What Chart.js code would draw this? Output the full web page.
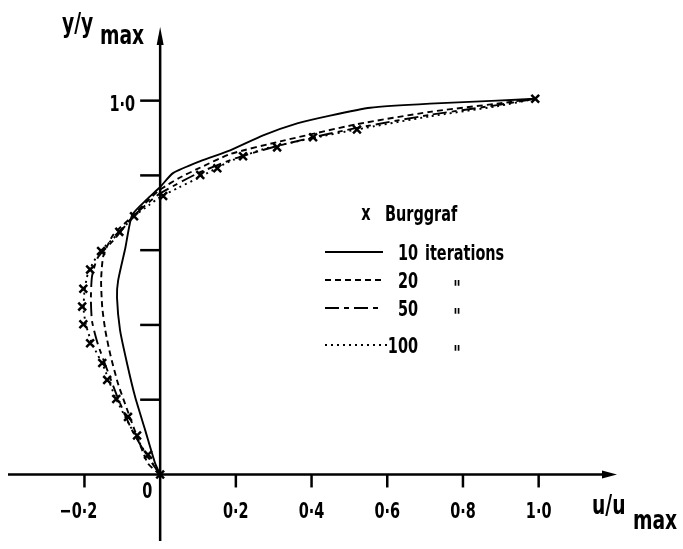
<!DOCTYPE html>
<html>
<head>
<meta charset="utf-8">
<script src="https://cdn.jsdelivr.net/npm/chart.js@4"></script>
<style>
  html, body { margin: 0; padding: 0; background: #fff; }
  canvas { display: block; }
</style>
</head>
<body>
<canvas id="chart" width="683" height="549"></canvas>
<script>
// tick marks and their labels
const xTicks = [-0.2, 0.2, 0.4, 0.6, 0.8, 1.0];
const xTickLabels = ["−0·2", "0·2", "0·4", "0·6", "0·8", "1·0"];
const yTicks = [0.2, 0.4, 0.6, 0.8, 1.0];
const yTickLabels = ["", "", "", "", "1·0"];

// Burggraf reference points
const burggrafU = [0, -0.032, -0.061, -0.085, -0.116, -0.140, -0.153, -0.185, -0.203, -0.206, -0.203, -0.185, -0.156, -0.108, -0.069, 0.008, 0.106, 0.151, 0.219, 0.309, 0.404, 0.520, 0.991];
const burggrafY = [0, 0.053, 0.104, 0.154, 0.202, 0.253, 0.298, 0.351, 0.402, 0.449, 0.497, 0.548, 0.598, 0.649, 0.691, 0.745, 0.801, 0.819, 0.851, 0.875, 0.902, 0.923, 1.005];

// 10 iterations
const iter10U = [0, -0.013, -0.040, -0.066, -0.087, -0.106, -0.114, -0.111, -0.092, -0.074, -0.036, 0.0, 0.034, 0.106, 0.185, 0.272, 0.362, 0.449, 0.555, 0.713, 0.890, 0.991];
const iter10Y = [0, 0.029, 0.120, 0.207, 0.295, 0.386, 0.473, 0.519, 0.606, 0.694, 0.735, 0.769, 0.806, 0.838, 0.867, 0.907, 0.939, 0.960, 0.981, 0.992, 1.000, 1.005];

// 20 iterations
const iter20U = [0, -0.032, -0.061, -0.087, -0.111, -0.132, -0.145, -0.153, -0.156, -0.150, -0.124, -0.072, -0.030, 0.0, 0.05, 0.10, 0.185, 0.317, 0.520, 0.713, 0.890, 0.991];
const iter20Y = [0, 0.029, 0.101, 0.173, 0.242, 0.322, 0.386, 0.447, 0.519, 0.585, 0.641, 0.692, 0.735, 0.762, 0.793, 0.818, 0.857, 0.891, 0.937, 0.970, 0.992, 1.005];

// 50 iterations
const iter50U = [0, -0.035, -0.075, -0.110, -0.140, -0.165, -0.180, -0.183, -0.180, -0.165, -0.120, -0.071, -0.030, 0.0, 0.1, 0.2, 0.3, 0.4, 0.52, 0.713, 0.89, 0.991];
const iter50Y = [0, 0.05, 0.12, 0.2, 0.28, 0.35, 0.41, 0.47, 0.53, 0.58, 0.63, 0.691, 0.728, 0.752, 0.806, 0.846, 0.876, 0.901, 0.927, 0.962, 0.988, 1.005];

// 100 iterations
const iter100U = [0, -0.04, -0.085, -0.12, -0.15, -0.18, -0.196, -0.202, -0.2, -0.19, -0.16, -0.11, -0.07, -0.03, 0.0, 0.05, 0.1, 0.185, 0.272, 0.4, 0.52, 0.713, 0.89, 0.991];
const iter100Y = [0, 0.06, 0.14, 0.21, 0.29, 0.35, 0.40, 0.44, 0.49, 0.54, 0.595, 0.645, 0.69, 0.72, 0.742, 0.768, 0.793, 0.838, 0.870, 0.899, 0.923, 0.958, 0.985, 1.005];

const FAMILY = '"DejaVu Sans Condensed", "DejaVu Sans", sans-serif';
const FONT = "bold 22px " + FAMILY;
const TITLE_FONT = "bold 26px " + FAMILY;
const INK = "#000";

const pts = (us, ys) => us.map((u, i) => ({ x: u, y: ys[i] }));

const lineSet = (label, us, ys, dash) => ({
  label,
  data: pts(us, ys),
  showLine: true,
  borderColor: INK,
  borderWidth: 1.9,
  borderDash: dash,
  pointRadius: 0,
  tension: 0.2,
  fill: false,
});

// draws narrow text (the figure's lettering is condensed); align is left / center / right
function text(ctx, str, x, y, align = "left", squeeze = 0.73) {
  const w = ctx.measureText(str).width * squeeze;
  let lx = x;
  if (align === "center") lx = x - w / 2;
  if (align === "right") lx = x - w;
  ctx.save();
  ctx.translate(lx, y);
  ctx.scale(squeeze, 1);
  ctx.textAlign = "left";
  ctx.fillText(str, 0, 0);
  ctx.restore();
  return w;
}

const axesPlugin = {
  id: "axes",
  afterDraw(chart) {
    const { ctx, scales } = chart;
    const sx = scales.x;
    const sy = scales.y;
    const x0 = sx.getPixelForValue(0);
    const y0 = sy.getPixelForValue(0);
    const left = sx.getPixelForValue(sx.min);
    const right = sx.getPixelForValue(sx.max);
    const top = sy.getPixelForValue(sy.max);
    const bottom = sy.getPixelForValue(sy.min);

    ctx.save();
    ctx.strokeStyle = INK;
    ctx.fillStyle = INK;
    ctx.lineWidth = 2.5;
    ctx.setLineDash([]);

    // axis lines
    ctx.beginPath();
    ctx.moveTo(left, y0);
    ctx.lineTo(right - 10, y0);
    ctx.moveTo(x0, bottom);
    ctx.lineTo(x0, top + 12);
    ctx.stroke();

    // arrow heads
    ctx.beginPath();
    ctx.moveTo(right, y0);
    ctx.lineTo(right - 15, y0 - 4);
    ctx.lineTo(right - 15, y0 + 4);
    ctx.closePath();
    ctx.fill();
    ctx.beginPath();
    ctx.moveTo(x0, top);
    ctx.lineTo(x0 - 3.5, top + 18);
    ctx.lineTo(x0 + 3.5, top + 18);
    ctx.closePath();
    ctx.fill();

    ctx.font = FONT;
    ctx.textBaseline = "alphabetic";

    // x ticks
    xTicks.forEach((v, i) => {
      const px = sx.getPixelForValue(v);
      ctx.beginPath();
      ctx.moveTo(px, y0);
      ctx.lineTo(px, y0 + 13);
      ctx.stroke();
      const lab = xTickLabels[i];
      const core = lab.replace("−", "");
      const w = ctx.measureText(core).width * 0.73;
      text(ctx, lab, px + w / 2, y0 + 44, "right");
    });
    text(ctx, "0", x0 - 13, y0 + 24, "center");

    // y ticks
    yTicks.forEach((v, i) => {
      const py = sy.getPixelForValue(v);
      ctx.beginPath();
      ctx.moveTo(x0, py);
      ctx.lineTo(x0 - 20, py);
      ctx.stroke();
      if (yTickLabels[i]) {
        text(ctx, yTickLabels[i], x0 - 25, py + 10, "right");
      }
    });

    // legend
    text(ctx, "x", 366, 220, "center");
    text(ctx, "Burggraf", 385, 221);
    const rows = [252, 280, 308, 345];
    const names = ["10", "20", "50", "100"];
    chart.data.datasets.slice(1).forEach((ds, i) => {
      const ry = rows[i];
      ctx.lineWidth = ds.borderWidth;
      ctx.setLineDash(ds.borderDash || []);
      ctx.beginPath();
      ctx.moveTo(325, ry);
      ctx.lineTo(i === 3 ? 388 : 383, ry);
      ctx.stroke();
      ctx.setLineDash([]);
      text(ctx, names[i], 418, ry + 8, "right");
      if (i === 0) {
        text(ctx, "iterations", 425, ry + 8);
      } else {
        text(ctx, "\"", 457, ry + 16, "center");
      }
    });

    // axis titles
    ctx.font = TITLE_FONT;
    text(ctx, "y/y", 62, 32, "left", 0.8);
    text(ctx, "max", 100, 44, "left", 0.8);
    text(ctx, "u/u", 592, y0 + 40, "left", 0.8);
    text(ctx, "max", 633, y0 + 55, "left", 0.8);
    ctx.restore();
  },
};

new Chart(document.getElementById("chart"), {
  type: "scatter",
  data: {
    datasets: [
      {
        label: "Burggraf",
        data: pts(burggrafU, burggrafY),
        showLine: false,
        pointStyle: "crossRot",
        pointRadius: 5.5,
        borderColor: INK,
        borderWidth: 2.5,
      },
      lineSet("10 iterations", iter10U, iter10Y, []),
      lineSet("20", iter20U, iter20Y, [6, 4]),
      lineSet("50", iter50U, iter50Y, [14, 5, 5, 5]),
      lineSet("100", iter100U, iter100Y, [2, 4]),
    ],
  },
  options: {
    responsive: false,
    animation: false,
    layout: { padding: { left: 8, right: 66, top: 27, bottom: 4 } },
    scales: {
      x: { type: "linear", min: -0.402, max: 1.207, display: false },
      y: { type: "linear", min: -0.178, max: 1.197, display: false },
    },
    plugins: {
      legend: { display: false },
      tooltip: { enabled: false },
    },
  },
  plugins: [axesPlugin],
});
</script>
</body>
</html>
